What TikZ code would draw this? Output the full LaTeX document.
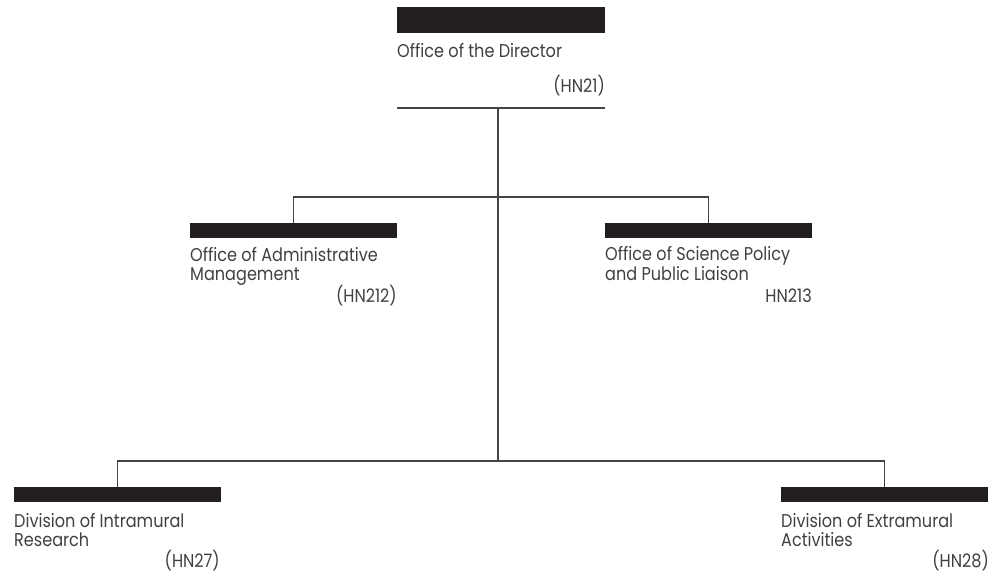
\documentclass[tikz,border=0pt]{standalone}
\usepackage{fontspec}
\setmainfont{Poppins}[FakeStretch=0.87]
\definecolor{barc}{HTML}{231F20}
\definecolor{txtc}{HTML}{404040}
\definecolor{linec}{HTML}{444444}
\begin{document}
\begin{tikzpicture}[x=1pt,y=-1pt,
  bar/.style={fill=barc,draw=none,inner sep=0pt,minimum width=207pt,minimum height=15pt,anchor=north west},
  lbl/.style={inner sep=0pt,anchor=base west,align=left,text=txtc,font=\fontsize{18.5}{18.5}\selectfont},
  code/.style={inner sep=0pt,anchor=base east,text=txtc,font=\fontsize{18.5}{18.5}\selectfont},
  conn/.style={draw=linec,line width=1.1pt}]
\useasboundingbox (0,0) rectangle (993,572);
% bars
\node[bar,minimum width=208pt,minimum height=26pt] (dir) at (397,7) {};
\node[bar] (admin) at (190,223) {};
\node[bar] (sci) at (605,223) {};
\node[bar] (intra) at (14,487) {};
\node[bar] (extra) at (781,487) {};
% labels (base = baseline of the last line)
\node[lbl] (dirt) at (397,58) {Office of the Director};
\node[code] (dirc) at (605,93) {(HN21)};
\node[lbl] (admint) at (190,280) {Office of Administrative\\Management};
\node[code] (adminc) at (397,302) {(HN212)};
\node[lbl] (scit) at (605,280) {Office of Science Policy\\and Public Liaison};
\node[code] (scic) at (812,302) {HN213};
\node[lbl] (intrat) at (14,546) {Division of Intramural\\Research};
\node[code] (intrac) at (220,567) {(HN27)};
\node[lbl] (extrat) at (781,546) {Division of Extramural\\Activities};
\node[code] (extrac) at (989,567) {(HN28)};
% connectors
\coordinate (ruleL) at (397,108);
\coordinate (ruleR) at (605,108);
\coordinate (hub) at (498,108);
\coordinate (j1) at (498,197);
\coordinate (j2) at (498,461);
\draw[conn] (ruleL) -- (ruleR);
\draw[conn] (hub) -- (j2);
\draw[conn] (admin.north) |- (j1) -| (sci.north);
\draw[conn] (intra.north) |- (j2) -| (extra.north);
\end{tikzpicture}
\end{document}
